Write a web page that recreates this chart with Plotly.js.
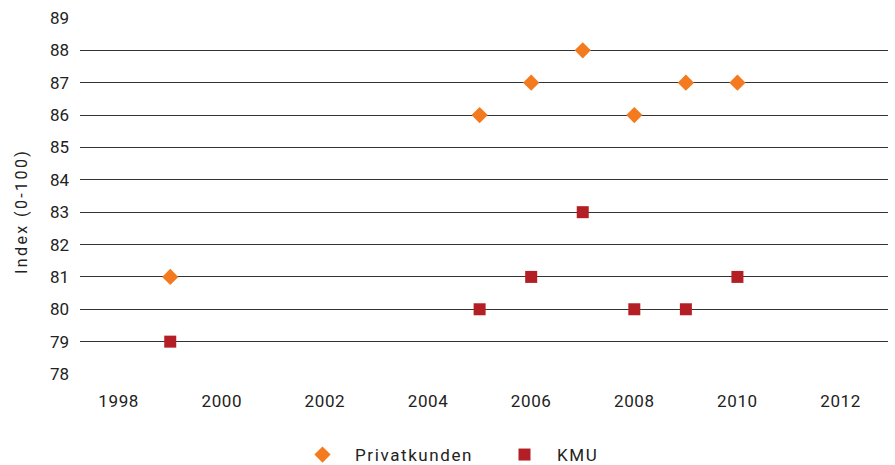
<!DOCTYPE html>
<html>
<head>
<meta charset="utf-8">
<script src="https://cdn.plot.ly/plotly-3.0.1.min.js"></script>
<style>
html,body{margin:0;padding:0;background:#fff}#chart{width:895px;height:465px}
.xtick text{letter-spacing:0.6px}
.legendtext{letter-spacing:1.6px}
.annotation-text{letter-spacing:2.4px}
</style>
</head>
<body>
<div id="chart"></div>
<script>
const years = [1999, 2005, 2006, 2007, 2008, 2009, 2010];
const privatkunden = [81, 86, 87, 88, 86, 87, 87];
const kmu = [79, 80, 81, 83, 80, 80, 81];
const xTicks = [1998, 2000, 2002, 2004, 2006, 2008, 2010, 2012];
const yTicks = [78, 79, 80, 81, 82, 83, 84, 85, 86, 87, 88, 89];
const yTitle = 'Index (0-100)';

const traces = [
  {x: years, y: privatkunden, name: 'Privatkunden', type: 'scatter', mode: 'markers',
   marker: {symbol: 'diamond', size: 12.5, color: '#F47A20'}},
  {x: years, y: kmu, name: 'KMU', type: 'scatter', mode: 'markers',
   marker: {symbol: 'square', size: 12, color: '#B31F24'}}
];
const layout = {
  width: 895, height: 465,
  margin: {l: 80, r: 7, t: 18, b: 91, autoexpand: false},
  paper_bgcolor: '#fff', plot_bgcolor: '#fff',
  font: {family: 'Roboto, "DejaVu Sans", sans-serif', size: 17, color: '#222'},
  showlegend: true,
  legend: {orientation: 'h', x: 0.2599, xanchor: 'left', y: -0.2275, yanchor: 'middle',
           font: {size: 17, color: '#222'}, itemwidth: 55, entrywidth: 132, entrywidthmode: 'pixels'},
  xaxis: {range: [1997.25, 2012.92], tickvals: xTicks, ticktext: xTicks.map(String),
          showgrid: false, zeroline: false, showline: false, ticks: '', ticklen: 0,
          ticklabelstandoff: 15, tickfont: {size: 17, color: '#222'}},
  yaxis: {range: [78, 89], tickvals: yTicks, showgrid: true, gridcolor: '#333', gridwidth: 1,
          zeroline: false, showline: false, ticks: '', ticklabelstandoff: 10,
          tickfont: {size: 17, color: '#222'}},
  annotations: [{text: yTitle, xref: 'paper', yref: 'paper', x: -0.0718, y: 0.4579,
                 xanchor: 'center', yanchor: 'middle', textangle: -90, showarrow: false,
                 font: {size: 16, color: '#222'}}]
};
Plotly.newPlot('chart', traces, layout, {displayModeBar: false});
</script>
</body>
</html>
